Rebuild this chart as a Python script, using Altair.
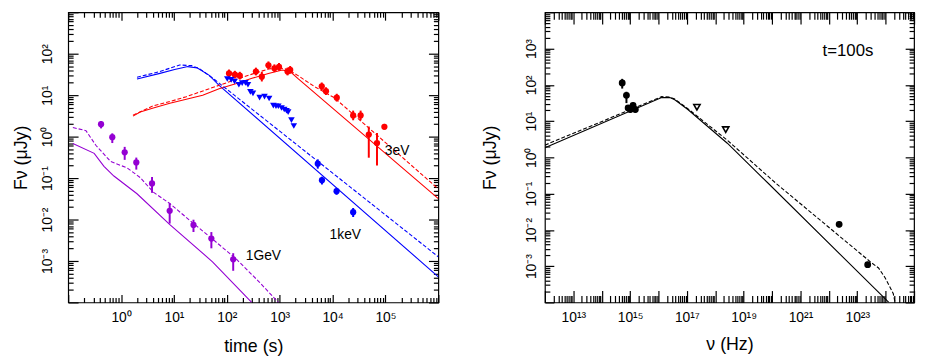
import altair as alt
import pandas as pd

FONT = "Liberation Sans"

# ---------------- left panel: light curves ----------------
series_names = ["1GeV", "1keV", "3eV"]
series_colors = ["#9400d3", "#0000ff", "#ff0000"]

# model curves: solid and dashed
gev_solid_t = [0.1225, 0.310, 0.475, 0.731, 2.0, 8.36, 53.6, 295]
gev_solid_f = [0.678, 0.395, 0.192, 0.112, 0.0418, 0.00755, 0.000957, 0.0001]
gev_dash_t = [0.1225, 0.217, 0.333, 0.634, 1.30, 2.30, 4.07, 8.36, 22.7, 53.6, 147, 398, 942]
gev_dash_f = [1.66, 1.39, 0.619, 0.251, 0.176, 0.103, 0.0457, 0.0243, 0.00828, 0.00337, 0.00115, 0.000324, 0.0001]
kev_solid_t = [2.0, 5.43, 10.3, 18.3, 27.8, 46.6, 71.4, 1e6]
kev_solid_f = [24.6, 33.5, 41.5, 48.9, 45.0, 30.1, 17.3, 0.000415]
kev_dash_t = [2.0, 5.43, 12.8, 21.5, 30.3, 57.7, 1e6]
kev_dash_f = [27.0, 37.2, 53.5, 51.5, 43.8, 24.2, 0.00126]
ev_solid_t = [1.68, 2.30, 4.07, 8.36, 17.1, 34.9, 71.4, 147, 299, 612, 1119, 1578, 2223, 1e6]
ev_solid_f = [3.12, 3.94, 4.89, 6.40, 7.93, 10.0, 14.3, 18.8, 25.5, 33.5, 40.5, 37.0, 25.0, 0.0318]
ev_dash_t = [1.68, 4.07, 8.36, 17.1, 71.4, 299, 612, 942, 1445, 2223, 4560, 10770, 1e6]
ev_dash_f = [3.30, 5.56, 7.00, 9.18, 17.3, 32.2, 42.7, 46.2, 41.5, 29.6, 16.1, 8.69, 0.0547]

# observed points with error bars
gev_t = [0.418, 0.682, 1.17, 1.94, 3.85, 8.3, 23.4, 51, 132]
gev_f = [2.0, 0.97, 0.417, 0.238, 0.074, 0.0162, 0.0074, 0.00347, 0.0011]
gev_lo = [1.58, 0.70, 0.275, 0.160, 0.044, 0.0080, 0.0050, 0.00202, 0.00058]
gev_hi = [2.38, 1.20, 0.566, 0.312, 0.106, 0.0245, 0.0099, 0.00498, 0.00154]

kev_t = [5250, 6300, 11900, 24500]
kev_f = [0.222, 0.089, 0.0483, 0.015]
kev_lo = [0.169, 0.070, 0.0395, 0.0115]
kev_hi = [0.283, 0.108, 0.058, 0.019]

kev_tri_t = [102, 121, 140, 169, 195, 225, 251, 279, 312, 417, 516, 631, 759, 851, 942,
             1084, 1219, 1346, 1445, 1667, 1849]
kev_tri_f = [24.5, 23.3, 21.4, 17.8, 19.5, 19.8, 17.8, 12.0, 11.0, 8.7, 9.2, 8.3, 5.6, 5.4, 5.4,
             4.9, 4.5, 4.2, 3.9, 2.5, 1.8]

ev_t = [110, 142, 176, 355, 459, 612, 794, 970, 1406, 1578, 6240, 7500, 12000, 24500, 33900,
        48400, 69200, 95500]
ev_f = [33.5, 31.2, 29.5, 37.2, 28.0, 52.5, 44.6, 48.0, 37.2, 40.7, 16.3, 12.5, 8.7, 3.24, 3.24,
        1.12, 0.70, 1.73]
ev_lo = [27.0, 25.2, 23.8, 30.0, 21.4, 42.3, 36.0, 38.7, 30.0, 32.8, 13.1, 10.1, 7.0, 2.48, 2.48,
         0.31, 0.20, 1.47]
ev_hi = [41.5, 38.7, 36.6, 46.1, 36.6, 65.1, 55.3, 59.5, 46.1, 50.5, 20.2, 15.5, 10.8, 4.24, 4.24,
         1.75, 1.23, 2.03]

left_labels = ["3eV", "1keV", "1GeV"]
left_label_t = [97500, 8790, 228]
left_label_f = [0.448, 0.00411, 0.00132]

# ---------------- right panel: SED at t=100 s ----------------
sed_solid_nu = [1e12, 1.29e16, 2.51e16, 3.74e16, 1.08e17, 2.65e18, 7.44e19, 1.29e24]
sed_solid_f = [1.84, 44.4, 44.4, 38.5, 20.8, 2.45, 0.19, 0.0001]
sed_dash_nu = [1e12, 1.29e16, 2.51e16, 3.74e16, 1.08e17, 2.65e18, 1.45e20, 3.29e23, 5.62e23,
               9.53e23, 1.86e24, 2.14e24]
sed_dash_f = [2.17, 47.2, 45.7, 40.5, 21.9, 2.96, 0.185, 1.21e-3, 8.9e-4, 4.81e-4, 1.73e-4, 1.0e-4]

sed_nu = [5.27e14, 7.43e14, 8.53e14, 1.02e15, 1.27e15, 1.53e15, 2.30e22, 2.33e23]
sed_f = [112, 51.2, 23.0, 20.8, 27.1, 20.8, 0.0142, 0.0011]
sed_lo = [78.7, 31.3, 19.0, 17.3, 22.5, 17.3, 0.0118, 0.00091]
sed_hi = [146, 64.3, 27.5, 25.0, 32.5, 25.0, 0.0171, 0.00132]

sed_ul_nu = [2.26e17, 2.33e18]
sed_ul_f = [24.0, 5.82]

right_label = ["t=100s"]
right_label_nu = [6.0e21]
right_label_f = [851]

# ---------------- helpers ----------------
SUP = {"0": "\u2070", "1": "\u00b9", "2": "\u00b2", "3": "\u00b3", "4": "\u2074",
       "5": "\u2075", "6": "\u2076", "7": "\u2077", "8": "\u2078", "9": "\u2079", "-": "\u207b"}


def sup_expr(exps):
    E = "round(log(datum.value)/LN10)"
    parts = []
    for e in exps:
        s = "10" + "".join(SUP[c] for c in str(e))
        parts.append(f"{E} == {e} ? '{s}'")
    return " : ".join(parts) + " : ''"


def majors(a, b):
    return [10.0 ** e for e in range(a, b + 1)]


def minors(a, b):
    return [k * 10.0 ** e for e in range(a, b) for k in range(2, 10)]


def label_axis(orient, exps, title, pad, tpad):
    kw = dict(orient=orient, values=[10.0 ** e for e in exps], labelExpr=sup_expr(exps),
              ticks=False, tickSize=0, domain=False, grid=False, labelPadding=pad,
              labelFontSize=14, labelFont=FONT, labelColor="black", labelOverlap=False,
              labelFlush=False, title=title, titleFont=FONT, titleFontSize=18,
              titleFontWeight="normal", titleColor="black", titlePadding=tpad)
    if orient == "left":
        kw.update(labelAngle=270, labelAlign="center", labelBaseline="bottom")
    return alt.Axis(**kw)


def tick_axis(orient, vals, size):
    return alt.Axis(orient=orient, values=vals, labels=False, ticks=True, tickSize=size,
                    offset=-size, domain=False, grid=False, title=None, tickColor="black",
                    tickWidth=1.2)


def lines_df(groups):
    rows = []
    for name, xs, ys in groups:
        for i, (x, y) in enumerate(zip(xs, ys)):
            rows.append({"series": name, "x": x, "y": y, "i": i})
    return pd.DataFrame(rows)


# ---------------- left panel ----------------
lx = alt.Scale(type="log", domain=[0.1, 1e6], nice=False)
ly = alt.Scale(type="log", domain=[1e-4, 1e3], nice=False)
lcol = alt.Color("series:N", scale=alt.Scale(domain=series_names, range=series_colors), legend=None)

solid_df = lines_df([("1GeV", gev_solid_t, gev_solid_f), ("1keV", kev_solid_t, kev_solid_f),
                     ("3eV", ev_solid_t, ev_solid_f)])
dash_df = lines_df([("1GeV", gev_dash_t, gev_dash_f), ("1keV", kev_dash_t, kev_dash_f),
                    ("3eV", ev_dash_t, ev_dash_f)])

pts = []
for name, ts, fs, los, his in [("1GeV", gev_t, gev_f, gev_lo, gev_hi),
                               ("1keV", kev_t, kev_f, kev_lo, kev_hi),
                               ("3eV", ev_t, ev_f, ev_lo, ev_hi)]:
    for t, f, lo, hi in zip(ts, fs, los, his):
        pts.append({"series": name, "x": t, "y": f, "lo": lo, "hi": hi})
pts_df = pd.DataFrame(pts)
tri_df = pd.DataFrame({"series": "1keV", "x": kev_tri_t, "y": kev_tri_f})
ltxt_df = pd.DataFrame({"label": left_labels, "x": left_label_t, "y": left_label_f})

L_title_y = "F\u03bd (\u03bcJy)"

l1 = alt.Chart(solid_df).mark_line(strokeWidth=1.1, clip=True).encode(
    x=alt.X("x:Q", scale=lx, axis=label_axis("bottom", [0, 1, 2, 3, 4, 5], "time (s)", 8, 14)),
    y=alt.Y("y:Q", scale=ly, axis=label_axis("left", [-3, -2, -1, 0, 1, 2], L_title_y, 14, 10)),
    color=lcol, order="i:Q")
l2 = alt.Chart(dash_df).mark_line(strokeWidth=1.1, strokeDash=[4, 2], clip=True).encode(
    x=alt.X("x:Q", scale=lx, axis=tick_axis("bottom", majors(-1, 6), 8)),
    y=alt.Y("y:Q", scale=ly, axis=tick_axis("left", majors(-4, 3), 10)),
    color=lcol, order="i:Q")
l3 = alt.Chart(pts_df).mark_rule(strokeWidth=2).encode(
    x=alt.X("x:Q", scale=lx, axis=tick_axis("bottom", minors(-1, 6), 5)),
    y=alt.Y("lo:Q", scale=ly, axis=tick_axis("left", minors(-4, 3), 5)),
    y2="hi:Q", color=lcol)
l4 = alt.Chart(pts_df).mark_point(shape="circle", filled=True, size=40, opacity=1).encode(
    x=alt.X("x:Q", scale=lx, axis=tick_axis("top", majors(-1, 6), 8)),
    y=alt.Y("y:Q", scale=ly, axis=tick_axis("right", majors(-4, 3), 10)),
    color=lcol)
l5 = alt.Chart(tri_df).mark_point(shape="triangle-down", filled=True, size=44, opacity=1).encode(
    x=alt.X("x:Q", scale=lx, axis=tick_axis("top", minors(-1, 6), 5)),
    y=alt.Y("y:Q", scale=ly, axis=tick_axis("right", minors(-4, 3), 5)),
    color=lcol)
l6 = alt.Chart(ltxt_df).mark_text(align="left", baseline="middle", fontSize=14, font=FONT,
                                  color="black").encode(
    x=alt.X("x:Q", scale=lx, axis=None),
    y=alt.Y("y:Q", scale=ly, axis=None),
    text="label:N")

left = alt.layer(l1, l2, l3, l4, l5, l6).resolve_axis(x="independent", y="independent").properties(
    width=375, height=294)

# ---------------- right panel ----------------
rx = alt.Scale(type="log", domain=[1e12, 1e25], nice=False)
ry = alt.Scale(type="log", domain=[1e-4, 1e4], nice=False)

rsolid_df = pd.DataFrame({"x": sed_solid_nu, "y": sed_solid_f, "i": range(len(sed_solid_nu))})
rdash_df = pd.DataFrame({"x": sed_dash_nu, "y": sed_dash_f, "i": range(len(sed_dash_nu))})
rpts_df = pd.DataFrame({"x": sed_nu, "y": sed_f, "lo": sed_lo, "hi": sed_hi})
rul_df = pd.DataFrame({"x": sed_ul_nu, "y": sed_ul_f})
rtxt_df = pd.DataFrame({"label": right_label, "x": right_label_nu, "y": right_label_f})

r1 = alt.Chart(rsolid_df).mark_line(strokeWidth=1.1, color="black", clip=True).encode(
    x=alt.X("x:Q", scale=rx, axis=label_axis("bottom", [13, 15, 17, 19, 21, 23], "\u03bd (Hz)", 8, 12)),
    y=alt.Y("y:Q", scale=ry, axis=label_axis("left", [-3, -2, -1, 0, 1, 2, 3], L_title_y, 7, 25)),
    order="i:Q")
r2 = alt.Chart(rdash_df).mark_line(strokeWidth=1.1, color="black", strokeDash=[4, 2], clip=True).encode(
    x=alt.X("x:Q", scale=rx, axis=tick_axis("bottom", majors(12, 25), 12)),
    y=alt.Y("y:Q", scale=ry, axis=tick_axis("left", majors(-4, 4), 9)),
    order="i:Q")
r3 = alt.Chart(rpts_df).mark_rule(strokeWidth=2, color="black").encode(
    x=alt.X("x:Q", scale=rx, axis=tick_axis("bottom", minors(12, 25), 7)),
    y=alt.Y("lo:Q", scale=ry, axis=tick_axis("left", minors(-4, 4), 5)),
    y2="hi:Q")
r4 = alt.Chart(rpts_df).mark_point(shape="circle", filled=True, size=48, color="black", opacity=1).encode(
    x=alt.X("x:Q", scale=rx, axis=tick_axis("top", majors(12, 25), 12)),
    y=alt.Y("y:Q", scale=ry, axis=tick_axis("right", majors(-4, 4), 9)))
r5 = alt.Chart(rul_df).mark_point(shape="triangle-down", filled=False, size=40, color="black",
                                  strokeWidth=1.6, fill="white", opacity=1).encode(
    x=alt.X("x:Q", scale=rx, axis=tick_axis("top", minors(12, 25), 7)),
    y=alt.Y("y:Q", scale=ry, axis=tick_axis("right", minors(-4, 4), 5)))
r6 = alt.Chart(rtxt_df).mark_text(align="left", baseline="middle", fontSize=17, font=FONT,
                                  color="black").encode(
    x=alt.X("x:Q", scale=rx, axis=None),
    y=alt.Y("y:Q", scale=ry, axis=None),
    text="label:N")

right = alt.layer(r1, r2, r3, r4, r5, r6).resolve_axis(x="independent", y="independent").properties(
    width=374, height=294)

chart = alt.hconcat(left, right, spacing=41).configure_view(
    stroke="black", strokeWidth=1.2).configure_axis(grid=False).properties(
    padding={"left": 4, "right": 2, "top": 0, "bottom": 0}, background="white")

chart.save("out.html", embed_options={"renderer": "svg", "actions": False})
